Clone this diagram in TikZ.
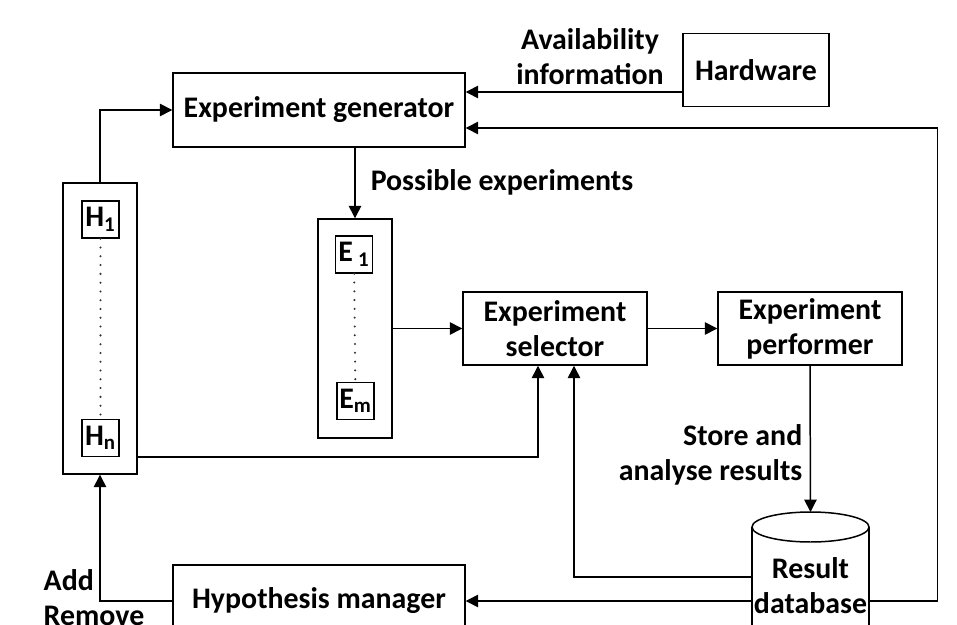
\documentclass[tikz,border=0pt]{standalone}
\usepackage{fontspec}
\setmainfont{Carlito}
\usetikzlibrary{arrows.meta,calc}

\begin{document}
\begin{tikzpicture}[x=0.02cm,y=-0.02cm,line width=0.85pt,
	font=\bfseries\fontsize{17}{20}\selectfont,
	>={Triangle[length=7pt,width=7pt]},
	block/.style={draw,align=center,inner sep=2pt},
	item/.style={draw,minimum size=0.74cm,inner sep=0pt},
	column/.style={draw,minimum width=1.48cm},
	lbl/.style={inner sep=0pt},
	dots/.style={line width=1.3pt,line cap=round,dash pattern=on 0pt off 5pt,black!80}]
	\useasboundingbox (0,0) rectangle (957,625);
	\clip (0,0) rectangle (957,625);

	\node[block,minimum width=2.92cm,minimum height=1.46cm] (hw) at (756,70) {Hardware};
	\node[lbl,align=center] (avail) at (590,57) {Availability\\information};
	\node[block,minimum width=5.84cm,minimum height=1.48cm] (gen) at (319,110) {Experiment generator};
	\node[block,minimum width=5.84cm,minimum height=1.44cm] (hyp) at (319,601) {Hypothesis manager};

	\node[column,minimum height=5.82cm] (hcol) at (100,328.5) {};
	\node[item] (h1) at (100.5,219.5) {H\textsubscript{1}};
	\node[item] (hn) at (100.5,438) {H\textsubscript{n}};
	\draw[dots] (h1) -- (hn);

	\node[column,minimum height=4.38cm] (ecol) at (355,328.5) {};
	\node[item] (e1) at (354,254.5) {E\,\textsubscript{1}};
	\node[item] (em) at (355.5,401) {E\textsubscript{m}};
	\draw[dots] (e1) -- (em);

	\node[block,minimum width=3.68cm,minimum height=1.46cm] (sel) at (555,328.5) {Experiment\\selector};
	\node[block,minimum width=3.68cm,minimum height=1.46cm] (perf) at (810,328.5) {Experiment\\performer};

	% result database
	\draw (810.5,527) ellipse [x radius=1.17cm,y radius=0.3cm];
	\draw (752,527) -- (752,650) (869,527) -- (869,650);
	\coordinate (dbtop) at (810.5,512);
	\node[align=center,minimum width=2.34cm,inner sep=0pt] (db) at (810.5,586) {Result\\database};

	\node[lbl,anchor=west] (poss) at (370,182) {Possible experiments};
	\node[lbl,anchor=east,align=right] (store) at (803,455) {Store and\\analyse results};
	\node[lbl,anchor=north west,align=left] (addrem) at (43,569) {Add\\Remove};

	\draw[->] ($(hw.west)+(0,22)$) -- ($(gen.east)+(0,-18)$);
	\draw[->] (hcol.north) |- (gen.west);
	\draw[->] (gen.south -| ecol.north) -- (ecol.north);
	\draw[->] (ecol.east) -- (sel.west);
	\draw[->] (sel.east) -- (perf.west);
	\draw[->] (perf.south) -- (dbtop);
	\draw[->] (hcol.east |- hn.south) -| ($(sel.south)+(-17,0)$);
	\draw[->] ($(db.west)+(0,-9)$) -| ($(sel.south)+(19,0)$);
	\draw[->] ($(db.west)+(0,15)$) -- (hyp.east);
	\draw[->] ($(db.east)+(0,15)$) -- ++(68,0) |- ($(gen.east)+(0,18)$);
	\draw[->] (hyp.west) -| (hcol.south);
\end{tikzpicture}
\end{document}
